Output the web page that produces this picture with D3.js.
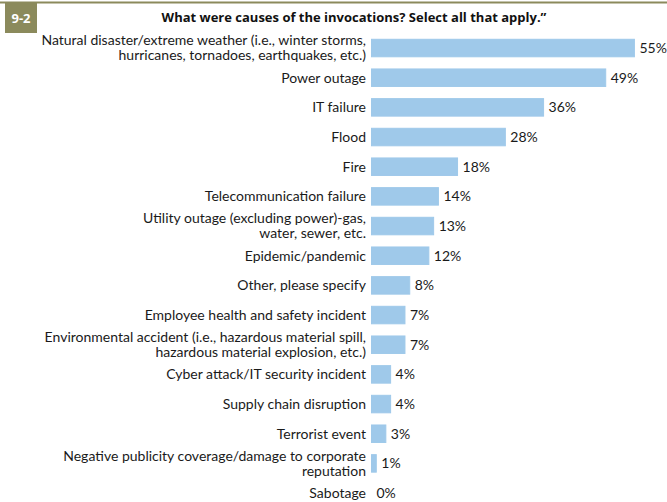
<!DOCTYPE html>
<html>
<head>
<meta charset="utf-8">
<script src="https://cdn.jsdelivr.net/npm/d3@7"></script>
<style>
  html, body { margin: 0; padding: 0; background: #fff; }
  svg { display: block; }
  text { font-family: Lato, "Open Sans", sans-serif; }
</style>
</head>
<body>
<div id="chart"></div>
<script>
// Survey causes (each label may wrap onto two lines)
const categories = [
  ["Natural disaster/extreme weather (i.e., winter storms,", "hurricanes, tornadoes, earthquakes, etc.)"],
  ["Power outage"],
  ["IT failure"],
  ["Flood"],
  ["Fire"],
  ["Telecommunication failure"],
  ["Utility outage (excluding power)-gas,", "water, sewer, etc."],
  ["Epidemic/pandemic"],
  ["Other, please specify"],
  ["Employee health and safety incident"],
  ["Environmental accident (i.e., hazardous material spill,", "hazardous material explosion, etc.)"],
  ["Cyber attack/IT security incident"],
  ["Supply chain disruption"],
  ["Terrorist event"],
  ["Negative publicity coverage/damage to corporate", "reputation"],
  ["Sabotage"]
];
const values = [55, 49, 36, 28, 18, 14, 13, 12, 8, 7, 7, 4, 4, 3, 1, 0];
const figureId = "9-2";
const title = "What were causes of the invocations? Select all that apply.\u201D";

const W = 667, H = 502;
const barColor = "#9fc9ea";
const olive = "#8b8a5c";

const svg = d3.select("#chart").append("svg")
  .attr("width", W).attr("height", H);

// top rule and figure badge
svg.append("rect").attr("x", 0).attr("y", 1.5).attr("width", W).attr("height", 2)
  .attr("fill", olive);
svg.append("rect").attr("x", 5).attr("y", 3).attr("width", 32).attr("height", 30)
  .attr("fill", olive);
svg.append("text").attr("x", 21).attr("y", 18).attr("dy", "0.35em")
  .attr("text-anchor", "middle").attr("fill", "#fff")
  .attr("font-size", 13).attr("font-weight", "bold")
  .style("font-family", "'Open Sans', sans-serif").text(figureId);
svg.append("text").attr("x", 354).attr("y", 17).attr("dy", "0.35em")
  .attr("text-anchor", "middle").attr("fill", "#111")
  .attr("font-size", 13).attr("font-weight", "bold")
  .style("font-family", "'Open Sans', sans-serif").text(title);

const idx = d3.range(categories.length);
const x = d3.scaleLinear().domain([0, 100]).range([371.5, 849.5]);
const y = d3.scaleBand().domain(idx).range([33.2, 507.9])
  .paddingInner(0.41).paddingOuter(0.205);

const rows = svg.append("g").selectAll("g").data(idx).join("g");

rows.append("rect")
  .attr("x", x(0))
  .attr("y", i => y(i))
  .attr("width", i => x(values[i]) - x(0))
  .attr("height", y.bandwidth())
  .attr("fill", barColor)
  .attr("stroke", barColor).attr("stroke-width", 1);

rows.append("text")
  .attr("x", i => x(values[i]) + 5)
  .attr("y", i => y(i) + y.bandwidth() / 2)
  .attr("dy", "0.35em")
  .attr("font-size", 14).attr("fill", "#1a1a1a")
  .text(i => values[i] + "%");

rows.append("text")
  .attr("text-anchor", "end")
  .attr("font-size", 14).attr("fill", "#1a1a1a")
  .each(function(i) {
    const lines = categories[i];
    const cy = y(i) + y.bandwidth() / 2;
    const lh = 15;
    const t = d3.select(this);
    lines.forEach((ln, k) => {
      t.append("tspan")
        .attr("x", 366)
        .attr("y", cy + (k - (lines.length - 1) / 2) * lh)
        .attr("dy", "0.35em")
        .text(ln);
    });
  });
</script>
</body>
</html>
